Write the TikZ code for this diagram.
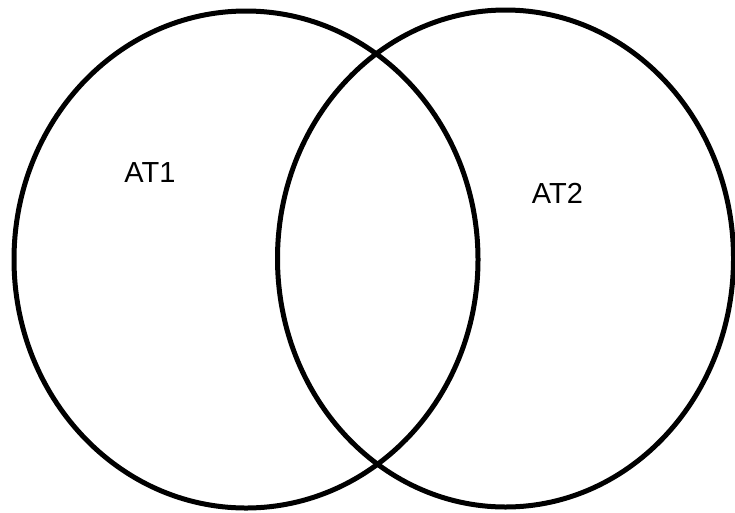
\documentclass[tikz,border=0pt]{standalone}
\usepackage{fontspec}
\setmainfont{Liberation Sans}
\begin{document}
\begin{tikzpicture}[x=1pt,y=-1pt,
  setshape/.style={draw=black,line width=5pt},
  setlabel/.style={font=\fontsize{29}{32}\selectfont,inner sep=0pt}]
\useasboundingbox (0,0) rectangle (735,512);
\draw[setshape] (246,259.5) ellipse [x radius=232, y radius=248.5];
\draw[setshape] (505.5,258.5) ellipse [x radius=228, y radius=248.5];
\node[setlabel] (at1) at (150,172.5) {AT1};
\node[setlabel] (at2) at (557.5,193.5) {AT2};
\end{tikzpicture}
\end{document}
